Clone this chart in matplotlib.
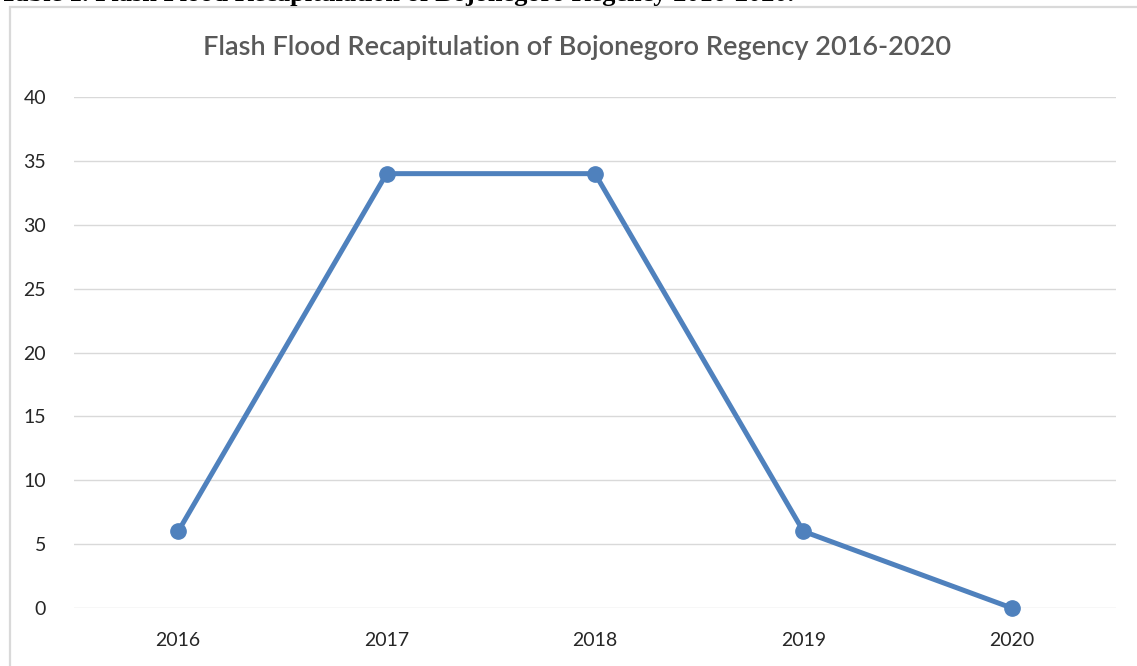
import matplotlib
matplotlib.use("Agg")
import matplotlib.pyplot as plt
from matplotlib.patches import Rectangle

years = ["2016", "2017", "2018", "2019", "2020"]
floods = [6, 34, 34, 6, 0]
y_ticks = [0, 5, 10, 15, 20, 25, 30, 35, 40]

TITLE = "Flash Flood Recapitulation of Bojonegoro Regency 2016-2020"
CAPTION = "Table 1. Flash Flood Recapitulation of Bojonegoro Regency 2016-2020."

W, H = 1137, 666
fig = plt.figure(figsize=(W / 100, H / 100), dpi=100)
fig.patch.set_facecolor("white")

# chart frame (cut off at right and bottom)
fig.patches.append(Rectangle((10 / W, -0.05), 1.2, (H - 7) / H + 0.05,
                             transform=fig.transFigure, fill=False,
                             edgecolor="#D9D9D9", lw=1.6))

# caption, cut off by the top edge as in the source
fig.text(0 / W, 1 - 1 / H, CAPTION, family="Liberation Serif", weight="bold",
         fontsize=19, va="baseline", ha="left", color="black")

ax = fig.add_axes([74 / W, 58 / H, (1116 - 74) / W, (608 - 97) / H])
x = list(range(len(years)))
ax.plot(x, floods, color="#4F81BD", lw=3.6, marker="o", markersize=11,
        solid_capstyle="round", zorder=3, clip_on=False)

ax.set_xlim(-0.5, len(years) - 0.5)
ax.set_ylim(0, 40)
ax.set_yticks(y_ticks)
ax.set_xticks(x)
ax.set_xticklabels(years)
for s in ax.spines.values():
    s.set_visible(False)
ax.grid(axis="y", color="#D9D9D9", lw=1)
ax.set_axisbelow(True)
ax.tick_params(length=0, labelsize=14, colors="#262626")
ax.tick_params(axis="y", pad=20)
ax.tick_params(axis="x", pad=17)
for lbl in ax.get_xticklabels() + ax.get_yticklabels():
    lbl.set_family("Lato")

fig.text(577 / W, 1 - 47 / H, TITLE, family="Lato", weight="semibold",
         fontsize=19.5, color="#595959", ha="center", va="center")

fig.savefig("out.png", dpi=100)
